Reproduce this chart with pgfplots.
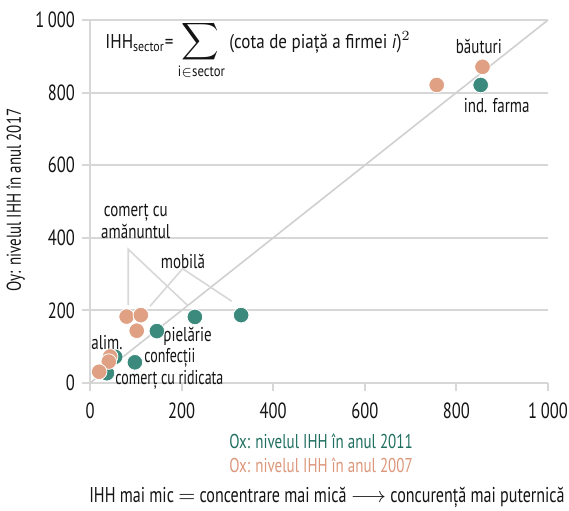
\documentclass[border=0pt]{standalone}
\usepackage{fontspec}
\usepackage{graphicx}
\usepackage{pgfplots}
\pgfplotsset{compat=1.18}
\setmainfont{PT Sans}
\newfontfamily\condfont{PT Sans}[FakeStretch=0.75]
\newfontfamily\narrowfont{PT Sans}[FakeStretch=0.7]
\newfontfamily\formfont{PT Sans}[FakeStretch=0.85]
\definecolor{cTeal}{RGB}{59,138,125}
\definecolor{cSalmon}{RGB}{223,160,131}
\definecolor{cTealTxt}{RGB}{31,110,95}
\definecolor{cSalmonTxt}{RGB}{220,150,122}
\definecolor{cGrid}{RGB}{215,215,215}
\definecolor{cDiag}{RGB}{208,208,208}
\definecolor{cText}{RGB}{20,20,20}
\newcommand{\lab}{\condfont\fontsize{10}{11}\selectfont}
\pgfplotstableread{
x y
853 821
330 187
229 182
146 143
98 57
55 72
37 27
}\teal
\pgfplotstableread{
x y
757 821
857 871
80 183
111 187
102 144
44 73
41 59
20 31
}\salmon
\begin{document}
\begin{tikzpicture}
\useasboundingbox (-45pt,-63.5pt) rectangle (239.5pt,191.5pt);
\begin{axis}[
  at={(0,0)}, anchor=south west,
  scale only axis, width=229pt, height=181.5pt,
  xmin=0, xmax=1000, ymin=0, ymax=1000,
  axis x line*=bottom, axis y line*=left,
  axis line style={draw=cGrid, line width=1.2pt, -},
  xtick={0,200,...,1000}, ytick={0,200,...,1000},
  tick align=outside, major tick length=4pt,
  tick style={draw=cGrid, line width=1pt},
  ymajorgrids, grid style={cGrid, line width=1pt},
  clip=false,
  tick label style={font=\condfont\fontsize{11}{13}\selectfont, text=cText},
  xticklabel style={yshift=-2.5pt},
  /pgf/number format/assume math mode=true,
  /pgf/number format/1000 sep={\,},
]
\addplot[cDiag, line width=0.8pt] coordinates {(0,0) (1000,1000)};
\draw[cGrid, line width=0.8pt] (axis cs:83.6,214.9) -- (axis cs:83.6,368.3) -- (axis cs:214.6,212.1);
\draw[cGrid, line width=0.8pt] (axis cs:131,211.6) -- (axis cs:202.3,314.9) -- (axis cs:309.4,225.3);
\addplot[only marks, mark=*, mark size=3.9pt, mark options={fill=cTeal, draw=white, line width=0.4pt}] table[x=x,y=y] {\teal};
\addplot[only marks, mark=*, mark size=3.9pt, mark options={fill=cSalmon, draw=white, line width=0.4pt}] table[x=x,y=y] {\salmon};
% labels
\node[font=\lab, text=cText, align=center] at (axis cs:100,444) {comerț cu\\amănuntul};
\node[font=\lab, text=cText] at (axis cs:203,336) {mobilă};
\node[font=\lab, text=cText, anchor=west, inner sep=0pt] at (axis cs:159.4,127.5) {pielărie};
\node[font=\narrowfont\fontsize{10}{11}\selectfont, text=cText, anchor=west, inner sep=0pt] at (axis cs:118,68) {confecții};
\node[font=\narrowfont\fontsize{10}{11}\selectfont, text=cText, anchor=west, inner sep=0pt] at (axis cs:54.6,10) {comerț cu ridicata};
\node[font=\lab, text=cText] at (axis cs:37,112) {alim.};
\node[font=\lab, text=cText] at (axis cs:849,928) {băuturi};
\node[font=\lab, text=cText] at (axis cs:888,763) {ind. farma};
\node[font=\formfont\fontsize{10}{12}\selectfont, text=cText, anchor=west, inner sep=0pt] at (axis cs:32.8,917)
  {IHH\textsubscript{sector}= $\displaystyle\mathop{\scalebox{1.3}{$\displaystyle\sum$}}\limits_{\mbox{\formfont\fontsize{7.5}{8}\selectfont i$\in$sector}}$ (cota de piață a firmei \textit{i})$^2$};
\end{axis}
\node[font=\lab, text=cText, rotate=90] at (-37.25pt,91.5pt) {Oy: nivelul IHH în anul 2017};
\node[font=\lab, text=cTealTxt] at (115.5pt,-29.25pt) {Ox: nivelul IHH în anul 2011};
\node[font=\lab, text=cSalmonTxt] at (115.5pt,-41pt) {Ox: nivelul IHH în anul 2007};
\node[font=\condfont\fontsize{10.7}{12}\selectfont, text=cText] at (118.5pt,-57pt) {IHH mai mic $=$ concentrare mai mică $\longrightarrow$ concurență mai puternică};
\end{tikzpicture}
\end{document}
